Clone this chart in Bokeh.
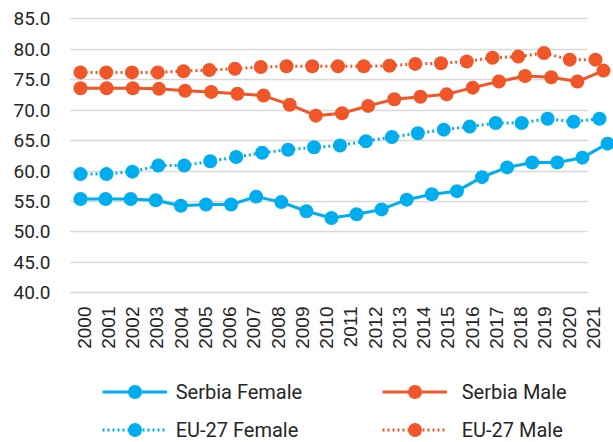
import math
from bokeh.plotting import figure
from bokeh.models import Range1d, FixedTicker, Legend, LegendItem
from bokeh.embed import file_html
from bokeh.resources import INLINE

# ---------------- data ----------------
years = list(range(2000, 2022))
year_labels = [str(y) for y in years]
y_ticks = [40, 45, 50, 55, 60, 65, 70, 75, 80, 85]
y_tick_labels = ["40.0", "45.0", "50.0", "55.0", "60.0", "65.0", "70.0", "75.0", "80.0", "85.0"]

serbia_female = [55.4, 55.4, 55.4, 55.2, 54.3, 54.5, 54.5, 55.8, 54.9, 53.4, 52.3,
                 52.9, 53.7, 55.3, 56.2, 56.7, 59.0, 60.6, 61.4, 61.4, 62.2, 64.5]
serbia_male = [73.6, 73.6, 73.6, 73.5, 73.2, 73.0, 72.7, 72.4, 70.9, 69.1, 69.5,
               70.7, 71.8, 72.2, 72.6, 73.7, 74.7, 75.6, 75.4, 74.7, 76.5]
eu27_female = [59.5, 59.5, 59.9, 60.9, 60.9, 61.6, 62.3, 63.0, 63.5, 63.9, 64.2,
               64.9, 65.6, 66.2, 66.8, 67.3, 67.9, 67.9, 68.6, 68.1, 68.6]
eu27_male = [76.2, 76.2, 76.2, 76.2, 76.4, 76.6, 76.8, 77.1, 77.2, 77.2, 77.2,
             77.2, 77.3, 77.6, 77.7, 78.0, 78.6, 78.8, 79.4, 78.3, 78.3]

series_names = ["Serbia Female", "Serbia Male", "EU-27 Female", "EU-27 Male"]

# ---------------- layout / style ----------------
W, H = 613, 442
FL, FR, FT, FB = 69, 613, 15, 442          # frame edges on canvas
BLUE, ORANGE = "#00AEEF", "#F05627"
TEXT = "#262626"

# y mapping: 85 at canvas 18.33, 40 at canvas 292.33
ppu = (292.33 - 18.33) / 45.0
y_start = 40 - (FB - 292.33) / ppu
y_end = 85 + (18.33 - FT) / ppu

# main axis: 2000 at canvas 83.5, 2021 at canvas 593
s_main = (593 - 83.5) / 21.0
x_start = 2000 - (83.5 - FL) / s_main
x_end = 2021 + (FR - 593) / s_main


def series_range(n, first_px, last_px):
    s = (last_px - first_px) / (n - 1)
    return Range1d(2000 - (first_px - FL) / s, 2000 + (n - 1) + (FR - last_px) / s)


p = figure(width=W, height=H, output_backend="svg", toolbar_location=None,
           x_range=Range1d(x_start, x_end), y_range=Range1d(y_start, y_end),
           min_border_left=FL, min_border_right=0, min_border_top=FT,
           min_border_bottom=0)
p.outline_line_color = None
p.background_fill_color = "white"
p.border_fill_color = "white"

p.extra_x_ranges = {
    "sf": series_range(len(serbia_female), 80, 607),
    "sm": series_range(len(serbia_male), 80, 603),
    "ef": series_range(len(eu27_female), 80, 599),
    "em": series_range(len(eu27_male), 80, 595),
}

# grid
p.xgrid.visible = False
p.ygrid.ticker = FixedTicker(ticks=y_ticks)
p.ygrid.grid_line_color = "#D9D9D9"
p.ygrid.grid_line_width = 1.5
try:
    p.ygrid.cross_bounds = (x_start, 2000 + (587 - 83.5) / s_main)
except Exception:
    pass

# axes
p.xaxis.fixed_location = 40 - (297 - 292.33) / ppu
p.xaxis.ticker = FixedTicker(ticks=years)
p.xaxis.major_label_overrides = {y: lab for y, lab in zip(years, year_labels)}
p.xaxis.major_label_orientation = math.pi / 2
p.xaxis.major_label_text_font = "Liberation Sans"
p.xaxis.major_label_text_font_size = "19px"
p.xaxis.major_label_text_color = TEXT
p.xaxis.major_label_standoff = 9

p.yaxis.ticker = FixedTicker(ticks=y_ticks)
p.yaxis.major_label_overrides = {t: lab for t, lab in zip(y_ticks, y_tick_labels)}
p.yaxis.major_label_text_font = "Roboto"
p.yaxis.major_label_text_font_size = "19px"
p.yaxis.major_label_text_color = TEXT
p.yaxis.major_label_standoff = 19

for ax in (p.xaxis, p.yaxis):
    ax.axis_line_color = None
    ax.major_tick_line_color = None
    ax.minor_tick_line_color = None
    ax.major_tick_out = 0
    ax.major_tick_in = 0

specs = [
    (serbia_female, "sf", BLUE, "solid"),
    (serbia_male, "sm", ORANGE, "solid"),
    (eu27_female, "ef", BLUE, "2 3"),
    (eu27_male, "em", ORANGE, "2 3"),
]
rends = []
for vals, rn, col, dash in specs:
    xs = years[:len(vals)]
    ln = p.line(xs, vals, x_range_name=rn, line_color=col, line_width=3, line_dash=dash)
    sc = p.scatter(xs, vals, x_range_name=rn, size=14, fill_color=col, line_color=col,
                   line_width=0)
    rends.append((ln, sc))

common = dict(orientation="vertical", glyph_width=65, glyph_height=35, spacing=3,
              padding=0, margin=0, border_line_alpha=0, background_fill_alpha=0,
              label_text_font="Roboto", label_text_font_size="20px",
              label_text_color=TEXT)
leg1 = Legend(items=[LegendItem(label=series_names[0], renderers=list(rends[0])),
                     LegendItem(label=series_names[2], renderers=list(rends[2]))],
              location=(101.7 - FL, -5), label_standoff=9, **common)
leg2 = Legend(items=[LegendItem(label=series_names[1], renderers=list(rends[1])),
                     LegendItem(label=series_names[3], renderers=list(rends[3]))],
              location=(381.7 - FL, -5), label_standoff=15, **common)
p.add_layout(leg1)
p.add_layout(leg2)

open("out.html", "w").write(file_html(p, INLINE))
